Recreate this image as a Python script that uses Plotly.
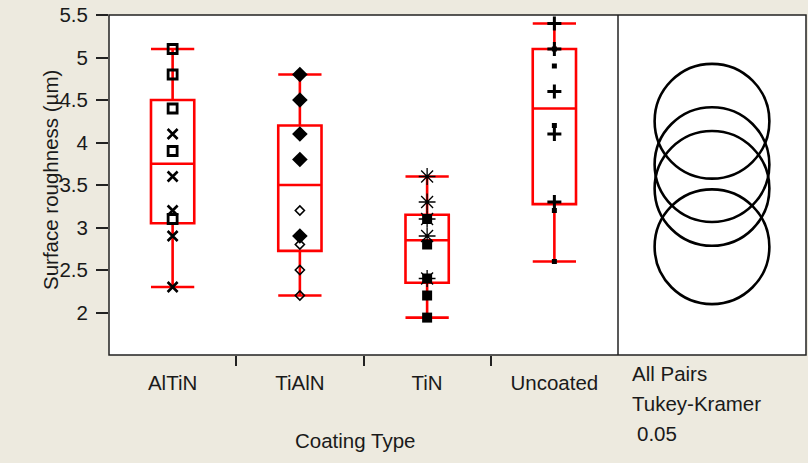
import numpy as np
import plotly.graph_objects as go

# ---------------- data ----------------
categories = ["AlTiN", "TiAlN", "TiN", "Uncoated"]

altin_squares = [5.1, 4.8, 4.4, 3.9, 3.1]
altin_xs = [4.1, 3.6, 3.2, 2.9, 2.3]
tialn_diamonds = [4.8, 4.5, 4.1, 3.8, 2.9]
tialn_small_diamonds = [3.8, 3.2, 2.8, 2.5, 2.2]
tin_squares = [3.1, 2.8, 2.4, 2.2, 1.94]
tin_asterisks = [3.6, 3.3, 3.1, 2.9, 2.4]
uncoated_plus = [5.4, 5.1, 4.6, 4.1, 3.3]
uncoated_small_squares = [5.1, 4.9, 4.2, 3.2, 2.6]

y_ticks = [2, 2.5, 3, 3.5, 4, 4.5, 5, 5.5]
y_range = [1.5, 5.5]
circle_radius = 0.675          # Tukey-Kramer comparison circle radius (µm)
y_title = "Surface roughness (µm)"
x_title = "Coating Type"
panel_lines = ["All Pairs", "Tukey-Kramer", "0.05"]

# ---------------- layout constants ----------------
W, H = 808, 463
ML, MR, MT, MB = 109, 2, 15, 108
PLOT_W = W - ML - MR
PLOT_H = H - MT - MB
split_px = 618
split = (split_px - ML) / PLOT_W

BG = "#EDEADF"
FONT = "Liberation Sans, Arial, sans-serif"
FS = 20.5
TXT = "#1a1a1a"

def px_x(px):
    return (px - ML) / PLOT_W

def px_y(py):
    return (H - MB - py) / PLOT_H

groups = [
    (altin_squares, altin_xs,
     dict(symbol="square-open", size=9, line=dict(width=2.8, color="black"), color="black"),
     dict(symbol="x-thin-open", size=10, line=dict(width=2.6, color="black"), color="black")),
    (tialn_diamonds, tialn_small_diamonds,
     dict(symbol="diamond", size=12, color="black", line=dict(width=0)),
     dict(symbol="diamond-open", size=7, line=dict(width=1.6, color="black"), color="black")),
    (tin_squares, tin_asterisks,
     dict(symbol="square", size=10, color="black", line=dict(width=0)),
     dict(symbol="asterisk-open", size=14, line=dict(width=1.3, color="black"), color="black")),
    (uncoated_plus, uncoated_small_squares,
     dict(symbol="cross-thin-open", size=10, line=dict(width=3, color="black"), color="black"),
     dict(symbol="square", size=5, color="black", line=dict(width=0))),
]

fig = go.Figure()

# boxes (JMP quantiles: (n+1)p method)
means = []
for i, (a, b, _, _) in enumerate(groups):
    vals = np.array(a + b, dtype=float)
    q1, med, q3 = np.percentile(vals, [25, 50, 75], method="weibull")
    means.append(vals.mean())
    fig.add_trace(go.Box(
        x=[i], q1=[q1], median=[med], q3=[q3],
        lowerfence=[vals.min()], upperfence=[vals.max()],
        width=0.34, whiskerwidth=1, boxpoints=False,
        line=dict(color="#FF0000", width=2.6),
        fillcolor="rgba(0,0,0,0)", showlegend=False, hoverinfo="skip",
        xaxis="x", yaxis="y",
    ))

# points
for i, (a, b, ma, mb) in enumerate(groups):
    fig.add_trace(go.Scatter(x=[i] * len(b), y=b, mode="markers", marker=mb,
                             showlegend=False, xaxis="x", yaxis="y"))
    fig.add_trace(go.Scatter(x=[i] * len(a), y=a, mode="markers", marker=ma,
                             showlegend=False, xaxis="x", yaxis="y"))

# empty trace to create the comparison-circle panel
fig.add_trace(go.Scatter(x=[], y=[], xaxis="x2", yaxis="y", showlegend=False))

# comparison circles
px_per_y = PLOT_H / (y_range[1] - y_range[0])
panel_w = W - MR - split_px
px_per_x2 = panel_w / 2.0
rx = circle_radius * px_per_y / px_per_x2
shapes = []
for m in means:
    shapes.append(dict(type="circle", xref="x2", yref="y",
                       x0=-rx, x1=rx, y0=m - circle_radius, y1=m + circle_radius,
                       line=dict(color="black", width=2.6)))

# frame
shapes.append(dict(type="rect", xref="paper", yref="paper", x0=0, x1=1, y0=0, y1=1,
                   line=dict(color="#222222", width=1.5)))
shapes.append(dict(type="line", xref="paper", yref="paper", x0=split, x1=split, y0=0, y1=1,
                   line=dict(color="#222222", width=1.5)))

annotations = [
    dict(text=y_title, xref="paper", yref="paper", x=px_x(50), y=px_y(180),
         textangle=-90, showarrow=False, xanchor="center", yanchor="middle",
         font=dict(family=FONT, size=FS, color=TXT)),
    dict(text=x_title, xref="paper", yref="paper", x=px_x(355), y=px_y(440),
         showarrow=False, xanchor="center", yanchor="middle",
         font=dict(family=FONT, size=FS, color=TXT)),
]
panel_pos = [(630, 373), (630, 403), (635, 433)]
for t, (xx, yy) in zip(panel_lines, panel_pos):
    annotations.append(dict(text=t, xref="paper", yref="paper", x=px_x(xx), y=px_y(yy),
                            showarrow=False, xanchor="left", yanchor="middle",
                            font=dict(family=FONT, size=FS, color=TXT)))

fig.update_layout(
    width=W, height=H,
    margin=dict(l=ML, r=MR, t=MT, b=MB, pad=0),
    paper_bgcolor=BG, plot_bgcolor="white",
    font=dict(family=FONT, size=FS, color=TXT),
    showlegend=False,
    xaxis=dict(domain=[0, split], range=[-0.5, 3.5], tickmode="array",
               tickvals=list(range(len(categories))), ticktext=categories,
               ticks="", showgrid=False, zeroline=False, showline=False,
               ticklabelstandoff=13,
               tickfont=dict(family=FONT, size=FS, color=TXT),
               minor=dict(tickmode="array", tickvals=[0.5, 1.5, 2.5], ticks="outside",
                          ticklen=10, tickwidth=1.5, tickcolor="#222222", showgrid=False)),
    xaxis2=dict(domain=[split, 1], range=[-1, 1], anchor="y", visible=False,
                showgrid=False, zeroline=False),
    yaxis=dict(range=y_range, tickmode="array", tickvals=y_ticks, ticks="outside",
               ticklen=12, tickwidth=1.5, tickcolor="#222222", showgrid=False,
               zeroline=False, showline=False, ticklabelstandoff=4,
               tickfont=dict(family=FONT, size=FS, color=TXT)),
    shapes=shapes, annotations=annotations,
)

fig.write_html("out.html", config={"displayModeBar": False},
               post_script="document.body.style.margin='0px';document.body.style.padding='0px';")
